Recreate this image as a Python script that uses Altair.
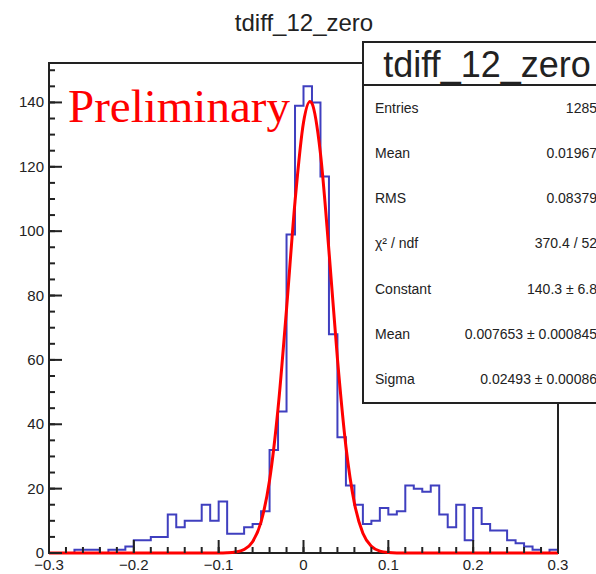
import altair as alt
import pandas as pd

# ---------------- data ----------------
BIN_LOW = [-0.30, -0.29, -0.28, -0.27, -0.26, -0.25, -0.24, -0.23, -0.22, -0.21,
           -0.20, -0.19, -0.18, -0.17, -0.16, -0.15, -0.14, -0.13, -0.12, -0.11,
           -0.10, -0.09, -0.08, -0.07, -0.06, -0.05, -0.04, -0.03, -0.02, -0.01,
           0.00, 0.01, 0.02, 0.03, 0.04, 0.05, 0.06, 0.07, 0.08, 0.09,
           0.10, 0.11, 0.12, 0.13, 0.14, 0.15, 0.16, 0.17, 0.18, 0.19,
           0.20, 0.21, 0.22, 0.23, 0.24, 0.25, 0.26, 0.27, 0.28, 0.29]
COUNTS = [0, 0, 0, 1, 1, 1, 0, 1, 1, 2,
          4, 4, 5, 5, 12, 8, 10, 10, 15, 10,
          16, 6, 6, 8, 9, 13, 32, 44, 99, 139,
          145, 140, 117, 68, 36, 21, 15, 9, 10, 14,
          12, 13, 21, 20, 19, 21, 12, 8, 15, 4,
          14, 9, 7, 7, 4, 3, 2, 1, 0, 1]
X_MAX = 0.30

FIT_X = [-0.30, -0.10, -0.09, -0.08, -0.07, -0.06, -0.05, -0.04, -0.03, -0.02, -0.01,
         0.00, 0.00765, 0.01, 0.02, 0.03, 0.04, 0.05, 0.06, 0.07, 0.08, 0.09, 0.10, 0.11, 0.30]
FIT_Y = [0.0, 0.01, 0.07, 0.29, 1.1, 3.5, 9.7, 22.6, 44.9, 75.8, 109.2,
         133.8, 140.3, 139.7, 124.1, 93.9, 60.4, 33.1, 15.5, 6.15, 2.08, 0.6, 0.15, 0.03, 0.0]

X_MAJOR = [-0.3, -0.2, -0.1, 0.0, 0.1, 0.2, 0.3]
X_LABELS = ["\u22120.3", "\u22120.2", "\u22120.1", "0", "0.1", "0.2", "0.3"]
X_MINOR = [-0.30, -0.28, -0.26, -0.24, -0.22, -0.20, -0.18, -0.16, -0.14, -0.12, -0.10,
           -0.08, -0.06, -0.04, -0.02, 0.00, 0.02, 0.04, 0.06, 0.08, 0.10, 0.12, 0.14,
           0.16, 0.18, 0.20, 0.22, 0.24, 0.26, 0.28, 0.30]
Y_MAJOR = [0, 20, 40, 60, 80, 100, 120, 140]
Y_LABELS = ["0", "20", "40", "60", "80", "100", "120", "140"]
Y_MINOR = [0, 5, 10, 15, 20, 25, 30, 35, 40, 45, 50, 55, 60, 65, 70, 75, 80, 85, 90,
           95, 100, 105, 110, 115, 120, 125, 130, 135, 140, 145, 150]

TITLE = "tdiff_12_zero"
STAT_LABELS = ["Entries", "Mean", "RMS", "χ² / ndf", "Constant", "Mean", "Sigma"]
STAT_VALUES = ["1285", "0.01967", "0.08379", "370.4 / 52", "140.3 ± 6.8",
               "0.007653 ± 0.000845", "0.02493 ± 0.00086"]

# ---------------- layout ----------------
W, H = 509, 490
FONT = "Liberation Sans"
INK = "#222222"

xs = alt.Scale(domain=[-0.3, 0.3], nice=False, zero=False)
ys = alt.Scale(domain=[0, 152.25], nice=False, zero=True)

hist_df = pd.DataFrame({"x": BIN_LOW + [X_MAX], "n": COUNTS + [COUNTS[-1]]})
fit_df = pd.DataFrame({"x": FIT_X, "n": FIT_Y})

hist = alt.Chart(hist_df).mark_line(
    interpolate="step-after", color="#3f3fbf", strokeWidth=2
).encode(
    x=alt.X("x:Q", scale=xs, axis=None),
    y=alt.Y("n:Q", scale=ys, axis=None),
)

fit = alt.Chart(fit_df).mark_line(
    interpolate="monotone", color="#ff0000", strokeWidth=3
).encode(
    x=alt.X("x:Q", scale=xs, axis=None),
    y=alt.Y("n:Q", scale=ys, axis=None),
)


def xticks(values, length):
    return alt.Chart(pd.DataFrame({"x": values})).mark_tick(
        color=INK, thickness=2, size=length, orient="vertical", opacity=1
    ).encode(x=alt.X("x:Q", scale=xs, axis=None),
             y=alt.value(H - length / 2))


def yticks(values, length):
    return alt.Chart(pd.DataFrame({"n": values})).mark_tick(
        color=INK, thickness=2, size=length, orient="horizontal", opacity=1
    ).encode(y=alt.Y("n:Q", scale=ys, axis=None),
             x=alt.value(length / 2))


xlab = alt.Chart(pd.DataFrame({"x": X_MAJOR, "t": X_LABELS})).mark_text(
    font=FONT, fontSize=15, color=INK, align="center", baseline="middle"
).encode(x=alt.X("x:Q", scale=xs, axis=None), y=alt.value(H + 12), text="t:N")

ylab = alt.Chart(pd.DataFrame({"n": Y_MAJOR, "t": Y_LABELS})).mark_text(
    font=FONT, fontSize=15, color=INK, align="right", baseline="middle"
).encode(y=alt.Y("n:Q", scale=ys, axis=None), x=alt.value(-5), text="t:N")

one = pd.DataFrame({"k": [0]})

frame = alt.Chart(one).mark_rect(
    fill="transparent", stroke=INK, strokeWidth=2
).encode(x=alt.value(0), x2=alt.value(W), y=alt.value(0), y2=alt.value(H))


def label(text, x, y, size, align="left", baseline="alphabetic", font=FONT,
          color=INK):
    return alt.Chart(one).mark_text(
        text=text, align=align, baseline=baseline, font=font, fontSize=size,
        color=color
    ).encode(x=alt.value(x), y=alt.value(y))


title = label(TITLE, 255, -32, 24, align="center")
prelim = label("Preliminary", 19, 59, 47, font="Liberation Serif", color="#ff0000")

box = alt.Chart(one).mark_rect(
    fill="white", stroke=INK, strokeWidth=2
).encode(x=alt.value(314), x2=alt.value(570), y=alt.value(-21), y2=alt.value(340))

sep = alt.Chart(one).mark_rule(color=INK, strokeWidth=2).encode(
    x=alt.value(314), x2=alt.value(570), y=alt.value(22))

header = label(TITLE, 438, 14, 36, align="center")

rows = []
row_y = [46, 91, 136, 181, 227, 272, 317]
for lab, val, yy in zip(STAT_LABELS, STAT_VALUES, row_y):
    rows.append(label(lab, 326, yy, 14, baseline="middle"))
    rows.append(label(val, 548, yy, 14, align="right", baseline="middle"))

chart = alt.layer(
    frame, xlab, ylab,
    hist, fit,
    xticks(X_MINOR, 6), xticks(X_MAJOR, 13),
    yticks(Y_MINOR, 6), yticks(Y_MAJOR, 13),
    prelim, box, sep, header, *rows, title
).properties(
    width=W, height=H,
    autosize=alt.AutoSizeParams(type="none"),
    padding={"left": 49, "top": 63, "right": 38, "bottom": 21},
    background="white",
).configure_view(stroke=None)

chart.save("out.html", embed_options={"renderer": "svg", "actions": False})
